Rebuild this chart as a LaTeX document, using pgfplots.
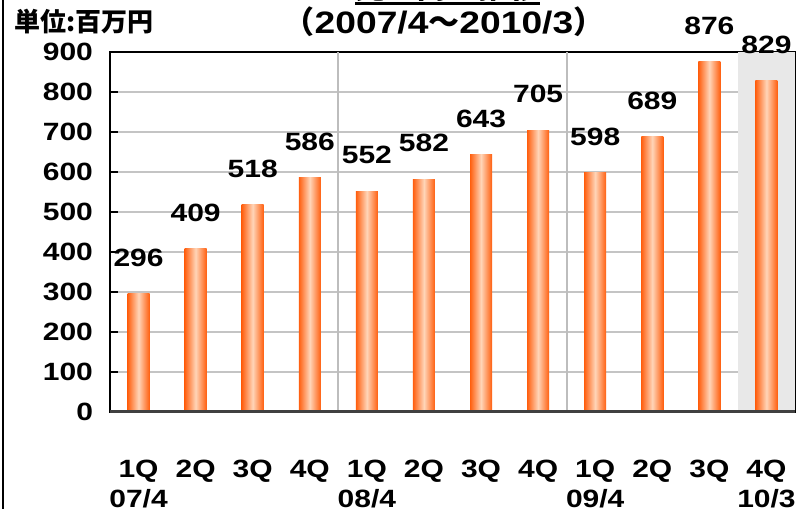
\documentclass[border=0pt]{standalone}
\usepackage{fontspec}
\setmainfont{Liberation Sans}[FakeStretch=1.2]
\newfontfamily\cjk{Noto Sans CJK JP}
\usepackage{pgfplots}
\pgfplotsset{compat=1.18}
\definecolor{barEdge}{HTML}{FF5F0F}
\definecolor{barMid}{HTML}{FFD5B8}
\definecolor{gridgray}{HTML}{C4C4C4}
\definecolor{sepgray}{HTML}{BDBDBD}
\definecolor{shadegray}{HTML}{E8E8E8}
\pgfplotsset{orangebar/.style={draw=none, left color=barEdge, right color=barEdge, middle color=barMid, bar shift=0pt}}
\begin{document}
\begin{tikzpicture}
\begin{axis}[name=ax, scale only axis, width=342.5pt, height=180pt,
  set layers,
  xmin=-0.5, xmax=11.5, ymin=0, ymax=900,
  ytick={0,100,...,900},
  xtick={0,...,11},
  xticklabels={{1Q\\07/4},2Q,3Q,4Q,{1Q\\08/4},2Q,3Q,4Q,{1Q\\09/4},2Q,3Q,{4Q\\10/3}},
  xticklabel style={align=center, yshift=-16.5pt, font=\bfseries\fontsize{12.5}{15}\selectfont},
  yticklabel style={xshift=-5pt, font=\bfseries\fontsize{12.5}{15}\selectfont},
  /pgf/number format/assume math mode=true,
  ytick pos=left, ytick align=inside, major tick length=4pt,
  x tick style={draw=none},
  y tick style={black, line width=1pt},
  ymajorgrids, grid style={draw=gridgray, line width=1pt},
  axis line style={black, line width=1pt},
  ybar, bar width=11pt,
  nodes near coords,
  nodes near coords style={anchor=south, yshift=10pt, font=\bfseries\fontsize{12.5}{15}\selectfont, text=black},
]
\fill[shadegray, on layer=axis background] (axis cs:10.5,0) rectangle (axis cs:11.5,900);
\draw[sepgray, line width=1pt] (axis cs:3.5,0) -- (axis cs:3.5,900);
\draw[sepgray, line width=1pt] (axis cs:7.5,0) -- (axis cs:7.5,900);
\addplot[orangebar] coordinates {(0,296)};
\addplot[orangebar] coordinates {(1,409)};
\addplot[orangebar] coordinates {(2,518)};
\addplot[orangebar] coordinates {(3,586)};
\addplot[orangebar] coordinates {(4,552)};
\addplot[orangebar] coordinates {(5,582)};
\addplot[orangebar] coordinates {(6,643)};
\addplot[orangebar] coordinates {(7,705)};
\addplot[orangebar] coordinates {(8,598)};
\addplot[orangebar] coordinates {(9,689)};
\addplot[orangebar] coordinates {(10,876)};
\addplot[orangebar] coordinates {(11,829)};
\end{axis}
\draw[black!75, line width=1.5pt] (ax.south west) -- (ax.south east);
\node[font=\cjk\bfseries\fontsize{13}{15}\selectfont] at ([shift={(-13pt,195pt)}]ax.south west) {単位:百万円};
\node[font=\bfseries\fontsize{15.5}{18}\selectfont] at ([shift={(167pt,195pt)}]ax.south west) {{\cjk （}2007/4{\cjk 〜}2010/3{\cjk ）}};
\node[font=\cjk\bfseries\fontsize{15.5}{18}\selectfont, anchor=base, inner sep=0pt] at ([shift={(169pt,206.5pt)}]ax.south west) {売上高の推移};
\draw[black, line width=1.5pt] ([shift={(122.5pt,204pt)}]ax.south west) -- ([shift={(215pt,204pt)}]ax.south west);
\draw[black, line width=1pt] ([shift={(-53.5pt,-48.5pt)}]ax.south west) -- ([shift={(-53.5pt,206pt)}]ax.south west);
\pgfresetboundingbox
\useasboundingbox ([shift={(-55pt,-48.5pt)}]ax.south west) rectangle ([shift={(345pt,206pt)}]ax.south west);
\end{tikzpicture}
\end{document}
